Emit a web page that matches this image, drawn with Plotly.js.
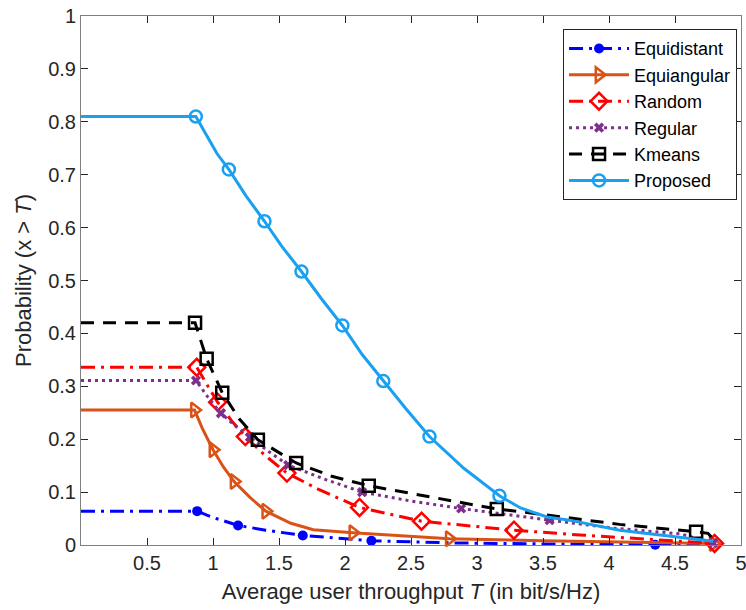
<!DOCTYPE html>
<html>
<head>
<meta charset="utf-8">
<script src="https://cdn.plot.ly/plotly-3.0.1.min.js"></script>
<style>html,body{margin:0;padding:0;background:#fff;}#chart{width:746px;height:610px;}</style>
</head>
<body>
<div id="chart"></div>
<script>
// ---- data ----
const seriesNames = ["Equidistant", "Equiangular", "Random", "Regular", "Kmeans", "Proposed"];

const equidistantX = [0, 0.88, 1.0, 1.19, 1.4, 1.68, 2.2, 2.8, 3.5, 4.35, 4.79];
const equidistantY = [0.064, 0.064, 0.052, 0.037, 0.028, 0.018, 0.008, 0.004, 0.002, 0.0005, 0];
const equidistantMkX = [0.88, 1.19, 1.68, 2.2, 4.35];
const equidistantMkY = [0.064, 0.037, 0.018, 0.008, 0.0005];

const equiangularX = [0, 0.86, 0.92, 1.0, 1.08, 1.16, 1.28, 1.40, 1.59, 1.76, 2.06, 2.79, 3.5, 4.79];
const equiangularY = [0.255, 0.255, 0.22, 0.18, 0.147, 0.12, 0.09, 0.064, 0.041, 0.029, 0.023, 0.012, 0.008, 0.003];
const equiangularMkX = [0.86, 1.0, 1.16, 1.40, 2.06, 2.79, 4.79];
const equiangularMkY = [0.255, 0.18, 0.12, 0.064, 0.023, 0.012, 0.003];

const randomX = [0, 0.877, 0.95, 1.035, 1.14, 1.245, 1.40, 1.56, 1.8, 2.11, 2.58, 3.28, 3.78, 4.29, 4.8];
const randomY = [0.336, 0.336, 0.305, 0.27, 0.235, 0.205, 0.168, 0.136, 0.105, 0.071, 0.045, 0.028, 0.019, 0.011, 0.003];
const randomMkX = [0.877, 1.035, 1.245, 1.56, 2.11, 2.58, 3.28, 4.8];
const randomMkY = [0.336, 0.27, 0.205, 0.136, 0.071, 0.045, 0.028, 0.003];

const regularX = [0, 0.871, 0.96, 1.06, 1.17, 1.28, 1.42, 1.57, 1.85, 2.13, 2.5, 2.88, 3.2, 3.55, 4.03, 4.54, 4.79];
const regularY = [0.311, 0.311, 0.28, 0.249, 0.225, 0.204, 0.177, 0.151, 0.124, 0.100, 0.083, 0.069, 0.058, 0.047, 0.032, 0.021, 0.004];
const regularMkX = [0.871, 1.06, 1.28, 1.57, 2.13, 2.88, 3.55, 4.79];
const regularMkY = [0.311, 0.249, 0.204, 0.151, 0.100, 0.069, 0.047, 0.004];

const kmeansX = [0, 0.864, 0.952, 1.07, 1.2, 1.34, 1.63, 1.9, 2.18, 2.7, 3.15, 3.33, 4.08, 4.66, 4.75, 4.8];
const kmeansY = [0.42, 0.42, 0.352, 0.288, 0.238, 0.199, 0.155, 0.13, 0.112, 0.088, 0.068, 0.063, 0.039, 0.025, 0.022, 0.008];
const kmeansMkX = [0.864, 0.952, 1.07, 1.34, 1.63, 2.18, 3.15, 4.66];
const kmeansMkY = [0.42, 0.352, 0.288, 0.199, 0.155, 0.112, 0.068, 0.025];

const proposedX = [0, 0.87, 1.03, 1.12, 1.25, 1.39, 1.52, 1.67, 1.82, 1.98, 2.13, 2.29, 2.46, 2.64, 2.9, 3.17, 3.33, 3.53, 3.70, 4.08, 4.46, 4.79];
const proposedY = [0.81, 0.81, 0.74, 0.71, 0.66, 0.612, 0.565, 0.517, 0.466, 0.415, 0.36, 0.31, 0.258, 0.205, 0.145, 0.093, 0.070, 0.053, 0.047, 0.028, 0.016, 0.007];
const proposedMkX = [0.87, 1.12, 1.39, 1.67, 1.98, 2.29, 2.64, 3.17];
const proposedMkY = [0.81, 0.71, 0.612, 0.517, 0.415, 0.31, 0.205, 0.093];

const xTickVals = [0.5, 1, 1.5, 2, 2.5, 3, 3.5, 4, 4.5, 5];
const xTickText = ["0.5", "1", "1.5", "2", "2.5", "3", "3.5", "4", "4.5", "5"];
const yTickVals = [0, 0.1, 0.2, 0.3, 0.4, 0.5, 0.6, 0.7, 0.8, 0.9, 1];
const yTickText = ["0", "0.1", "0.2", "0.3", "0.4", "0.5", "0.6", "0.7", "0.8", "0.9", "1"];

// ---- styles ----
const styles = [
  {color: "#0000ff", dash: "14px,6px,3px,6px", symbol: "circle", size: 10, lw: 0},
  {color: "#D95319", dash: "solid", symbol: "triangle-right-open", size: 13, lw: 2.5},
  {color: "#ff0000", dash: "14px,6px,3px,6px", symbol: "diamond-open", size: 13, lw: 2.5},
  {color: "#7E2F8E", dash: "3px,4px", symbol: "x", size: 9, lw: 0},
  {color: "#000000", dash: "13px,9px", symbol: "square-open", size: 12, lw: 2.5},
  {color: "#1AA0F0", dash: "solid", symbol: "circle-open", size: 12, lw: 2.5}
];
const lineData = [
  [equidistantX, equidistantY, equidistantMkX, equidistantMkY],
  [equiangularX, equiangularY, equiangularMkX, equiangularMkY],
  [randomX, randomY, randomMkX, randomMkY],
  [regularX, regularY, regularMkX, regularMkY],
  [kmeansX, kmeansY, kmeansMkX, kmeansMkY],
  [proposedX, proposedY, proposedMkX, proposedMkY]
];

const LW = 3;
const traces = [];
lineData.forEach((d, i) => {
  const s = styles[i];
  const mk = {symbol: s.symbol, size: s.size, color: s.color, line: {color: s.color, width: s.lw}};
  traces.push({x: d[0], y: d[1], mode: "lines", line: {color: s.color, width: LW, dash: s.dash},
    showlegend: false, hoverinfo: "skip", cliponaxis: false});
  traces.push({x: d[2], y: d[3], mode: "markers", marker: mk,
    showlegend: false, hoverinfo: "skip", cliponaxis: false});
});
lineData.forEach((d, i) => {
  const s = styles[i];
  traces.push({x: [null], y: [null], mode: "lines+markers", name: seriesNames[i],
    line: {color: s.color, width: LW, dash: s.dash},
    marker: {symbol: s.symbol, size: s.size, color: s.color, line: {color: s.color, width: s.lw}}});
});

const axisCommon = {
  showgrid: false, zeroline: false, showline: true, linecolor: "#808080", linewidth: 1,
  mirror: "ticks", ticks: "inside", ticklen: 7, tickcolor: "#262626",
  ticklabeloverflow: "allow",
  tickfont: {family: "Liberation Sans, Arial, sans-serif", size: 20, color: "#262626"}
};

const layout = {
  width: 746, height: 610,
  margin: {l: 81, r: 5, t: 16, b: 65},
  paper_bgcolor: "#fff", plot_bgcolor: "#fff",
  font: {family: "Liberation Sans, Arial, sans-serif", color: "#262626"},
  xaxis: Object.assign({}, axisCommon, {
    range: [0, 5], tickvals: xTickVals, ticktext: xTickText,
    title: {text: "Average user throughput <i>T</i> (in bit/s/Hz)", font: {size: 22, color: "#262626"}, standoff: 10}
  }),
  yaxis: Object.assign({}, axisCommon, {
    range: [0, 1], tickvals: yTickVals, ticktext: yTickText,
    title: {text: "Probability (x > <i>T</i>)", font: {size: 22, color: "#262626"}, standoff: 10}
  }),
  legend: {
    x: 0.994, y: 0.975, xanchor: "right", yanchor: "top",
    bgcolor: "#fff", bordercolor: "#262626", borderwidth: 1,
    font: {size: 18, color: "#000"}, itemwidth: 60, tracegroupgap: 0
  },
  showlegend: true
};

Plotly.newPlot("chart", traces, layout, {staticPlot: true, displayModeBar: false});
</script>
</body>
</html>
